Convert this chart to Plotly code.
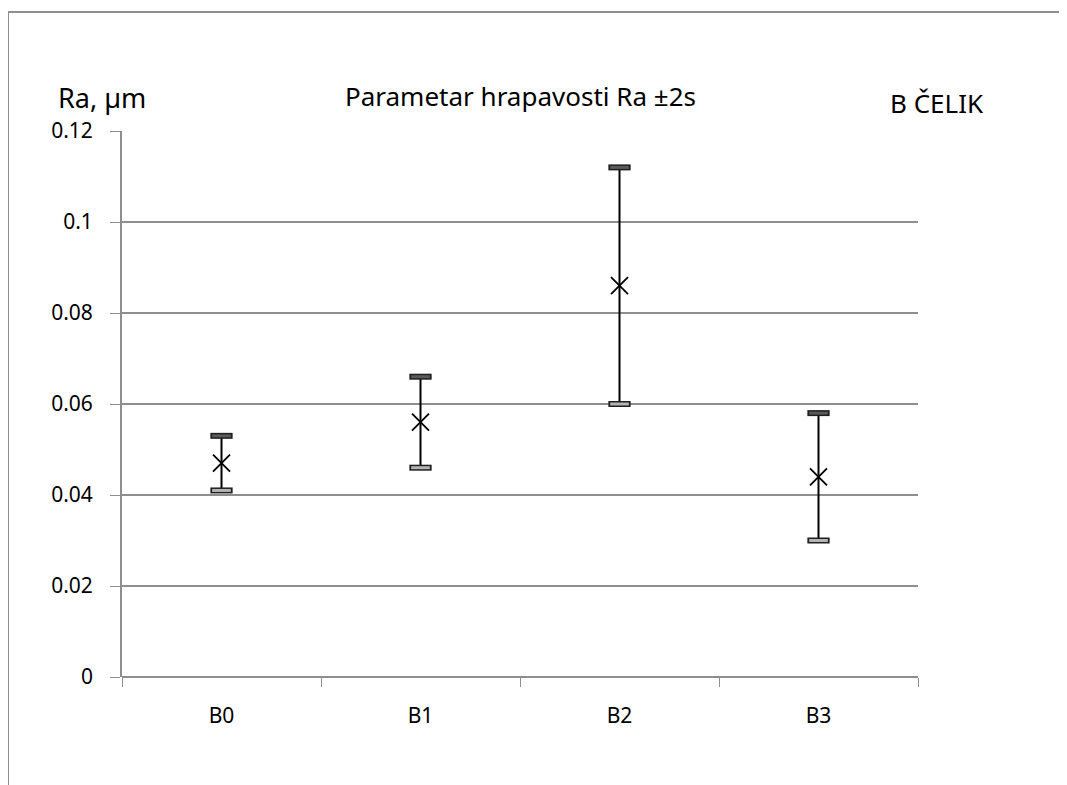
import plotly.graph_objects as go

categories = ["B0", "B1", "B2", "B3"]
ra_mean = [0.047, 0.056, 0.086, 0.044]
ra_high = [0.053, 0.066, 0.112, 0.058]
ra_low = [0.041, 0.046, 0.060, 0.030]
y_ticks = [0, 0.02, 0.04, 0.06, 0.08, 0.1, 0.12]
y_labels = ["0", "0.02", "0.04", "0.06", "0.08", "0.1", "0.12"]

xs = list(range(len(categories)))
FONT = "Noto Sans"
GRID = "#8e8e8e"

fig = go.Figure()

# vertical range lines
vx, vy = [], []
for i, (hi, lo) in enumerate(zip(ra_high, ra_low)):
    vx += [i, i, None]
    vy += [lo, hi, None]
fig.add_trace(go.Scatter(x=vx, y=vy, mode="lines", line=dict(color="black", width=2),
                         hoverinfo="skip", showlegend=False))


def cap_segments(vals, hw):
    cx, cy = [], []
    for i, v in enumerate(vals):
        cx += [i - hw, i + hw, None]
        cy += [v, v, None]
    return cx, cy


for vals, fill in ((ra_high, "#5a5a5a"), (ra_low, "#b4b4b4")):
    ox, oy = cap_segments(vals, 0.056)
    fig.add_trace(go.Scatter(x=ox, y=oy, mode="lines", line=dict(color="#202020", width=6),
                             hoverinfo="skip", showlegend=False))
    ix, iy = cap_segments(vals, 0.047)
    fig.add_trace(go.Scatter(x=ix, y=iy, mode="lines", line=dict(color=fill, width=3),
                             hoverinfo="skip", showlegend=False))

fig.add_trace(go.Scatter(x=xs, y=ra_mean, mode="markers",
                         marker=dict(symbol="x-thin-open", size=17, color="black",
                                     line=dict(color="black", width=1.8)),
                         showlegend=False))

fig.update_layout(
    width=1059, height=777,
    margin=dict(l=114, r=149, t=123, b=108),
    paper_bgcolor="white", plot_bgcolor="white",
    font=dict(family=FONT, size=21, color="black"),
    showlegend=False,
    xaxis=dict(
        range=[-0.5, 3.5], tickvals=xs, ticktext=categories, ticks="",
        showgrid=False, zeroline=False, showline=False,
        tickfont=dict(family=FONT, size=21), ticklabelstandoff=24,
        minor=dict(tick0=-0.5, dtick=1, ticks="outside", ticklen=9, tickcolor=GRID,
                   tickwidth=1.3, showgrid=False),
    ),
    yaxis=dict(
        range=[0, 0.12], tickvals=y_ticks, ticktext=y_labels,
        ticks="outside", ticklen=10, tickcolor=GRID, tickwidth=1.3,
        showgrid=True, gridcolor=GRID, gridwidth=1.5,
        zeroline=True, zerolinecolor=GRID, zerolinewidth=1.8,
        showline=True, linecolor=GRID, linewidth=1.8,
        tickfont=dict(family=FONT, size=21), ticklabelstandoff=13,
    ),
    shapes=[
        dict(type="line", xref="paper", yref="paper", x0=-0.1432, x1=-0.1432, y0=-0.25, y1=1.218,
             line=dict(color=GRID, width=2)),
        dict(type="line", xref="paper", yref="paper", x0=-0.1432, x1=1.25, y0=1.218, y1=1.218,
             line=dict(color=GRID, width=2)),
    ],
    annotations=[
        dict(text="Ra, µm", xref="paper", yref="paper", x=-0.025, y=1.062, showarrow=False,
             xanchor="center", yanchor="middle", font=dict(family=FONT, size=27)),
        dict(text="Parametar hrapavosti Ra ±2s", xref="paper", yref="paper", x=0.5, y=1.064,
             showarrow=False, xanchor="center", yanchor="middle", font=dict(family=FONT, size=26)),
        dict(text="B ČELIK", xref="paper", yref="paper", x=1.024, y=1.052, showarrow=False,
             xanchor="center", yanchor="middle", font=dict(family=FONT, size=26)),
    ],
)

fig.write_html("out.html")
